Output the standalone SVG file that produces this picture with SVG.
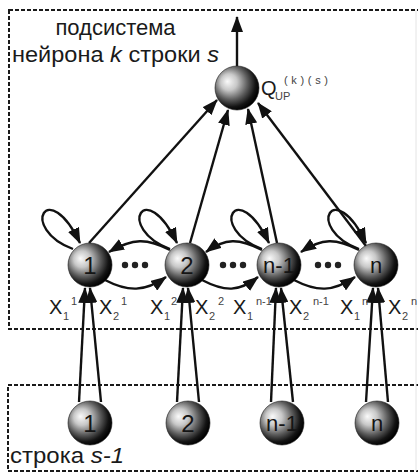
<svg xmlns="http://www.w3.org/2000/svg" width="418" height="473" viewBox="0 0 418 473">
<style>
.box{fill:none;stroke:#1a1a1a;stroke-width:2;stroke-dasharray:4 2}
.edge{fill:none;stroke:#111;stroke-width:2.4}
.arr{marker-end:url(#ah)}
.sph{fill:url(#sg);stroke:#1a1a1a;stroke-width:0.6}
.num{font-family:"Liberation Sans",Arial,sans-serif;font-size:24px;fill:#151515;text-anchor:middle}
.numn{font-family:"Liberation Sans",Arial,sans-serif;font-size:22px;fill:#151515;text-anchor:middle}
.lbl{font-family:"Liberation Sans",Arial,sans-serif;font-size:22px;fill:#1a1a1a}
.x{font-family:"Liberation Sans",Arial,sans-serif;font-size:20px;fill:#1a1a1a}
.s{font-family:"Liberation Sans",Arial,sans-serif;font-size:11px;fill:#444}
.dot{fill:#222}
</style>
<defs>
<radialGradient id="sg" cx="0.4" cy="0.4" r="0.62" fx="0.28" fy="0.35">
<stop offset="0" stop-color="#fafafa"/>
<stop offset="0.3" stop-color="#c8c8c8"/>
<stop offset="0.62" stop-color="#5c5c5c"/>
<stop offset="0.86" stop-color="#141414"/>
<stop offset="1" stop-color="#000"/>
</radialGradient>
<marker id="ah" markerUnits="userSpaceOnUse" markerWidth="16" markerHeight="12" refX="15" refY="6" orient="auto">
<path d="M0,0 L16,6 L0,12 z" fill="#111"/>
</marker>
</defs>
<rect width="418" height="473" fill="#fff"/>
<g id="frames">
<rect class="box" x="9" y="10" width="430" height="319"/>
<rect class="box" x="8" y="385" width="430" height="86"/>
<line x1="416" y1="10" x2="416" y2="471" stroke="#e4e4e4" stroke-width="1"/>
</g>
<g id="labels">
<text class="lbl" x="115.5" y="35" text-anchor="middle">подсистема</text>
<text class="lbl" x="12" y="62" textLength="207" lengthAdjust="spacingAndGlyphs">нейрона <tspan font-style="italic">k</tspan> строки <tspan font-style="italic">s</tspan></text>
<text class="lbl" x="10" y="463" textLength="114" lengthAdjust="spacingAndGlyphs">строка <tspan font-style="italic">s-1</tspan></text>
</g>
<g id="connectors">
<path class="edge arr" d="M237,66 L237,17"/>
<path class="edge arr" d="M89,243 L217,100"/>
<path class="edge arr" d="M190,243 L228,110"/>
<path class="edge arr" d="M277,243 L248,109"/>
<path class="edge arr" d="M366,246 L258,103"/>
<path class="edge arr" d="M73,249 C18,228 48,176 80,243"/>
<path class="edge arr" d="M170,249 C115,228 145,176 177,243"/>
<path class="edge arr" d="M262,249 C207,228 237,176 269,243"/>
<path class="edge arr" d="M359,249 C304,228 334,176 366,243"/>
<path class="edge arr" d="M170,250 C147,238 133,238 109,252"/>
<path class="edge arr" d="M105,280 C128,292 145,292 166,277"/>
<path class="edge arr" d="M262,250 C239,238 225,238 206,252"/>
<path class="edge arr" d="M202,280 C225,292 239,292 258,277"/>
<path class="edge arr" d="M359,250 C336,238 322,238 301,252"/>
<path class="edge arr" d="M294,280 C317,292 333,292 355,277"/>
<path class="edge arr" d="M79,402 L85,288"/>
<path class="edge arr" d="M101,402 L90,288"/>
<path class="edge arr" d="M177,402 L183,288"/>
<path class="edge arr" d="M199,402 L188,288"/>
<path class="edge arr" d="M271,402 L276,288"/>
<path class="edge arr" d="M293,402 L281,288"/>
<path class="edge arr" d="M366,402 L373,288"/>
<path class="edge arr" d="M388,402 L378,288"/>
</g>
<g id="dots">
<circle class="dot" cx="125" cy="265" r="3.2"/><circle class="dot" cx="135" cy="265" r="3.2"/><circle class="dot" cx="145" cy="265" r="3.2"/>
<circle class="dot" cx="223" cy="265" r="3.2"/><circle class="dot" cx="233" cy="265" r="3.2"/><circle class="dot" cx="243" cy="265" r="3.2"/>
<circle class="dot" cx="318" cy="265" r="3.2"/><circle class="dot" cx="328" cy="265" r="3.2"/><circle class="dot" cx="338" cy="265" r="3.2"/>
</g>
<g id="Q">
<circle class="sph" cx="237" cy="88" r="22"/>
<text class="x" x="261" y="95" font-size="19">Q</text>
<text class="s" x="275" y="100">UP</text>
<text class="s" x="284" y="84" font-size="12" textLength="44" lengthAdjust="spacing">(k)(s)</text>
</g>
<g id="m1"><circle class="sph" cx="90" cy="265" r="22"/><text class="num" x="90" y="274">1</text></g>
<g id="m2"><circle class="sph" cx="187" cy="265" r="22"/><text class="num" x="187" y="274">2</text></g>
<g id="mn1"><circle class="sph" cx="279" cy="265" r="22"/><text class="numn" x="279" y="273">n-1</text></g>
<g id="mn"><circle class="sph" cx="376" cy="265" r="22"/><text class="numn" x="376" y="273">n</text></g>
<g id="b1"><circle class="sph" cx="90" cy="423" r="22"/><text class="num" x="90" y="432">1</text></g>
<g id="b2"><circle class="sph" cx="188" cy="423" r="22"/><text class="num" x="188" y="432">2</text></g>
<g id="bn1"><circle class="sph" cx="282" cy="423" r="22"/><text class="numn" x="282" y="431">n-1</text></g>
<g id="bn"><circle class="sph" cx="377" cy="423" r="22"/><text class="numn" x="377" y="431">n</text></g>
<g id="xlabels">
<text class="x" x="49" y="314">X</text><text class="s" x="63" y="320">1</text><text class="s" x="71" y="305">1</text>
<text class="x" x="99" y="314">X</text><text class="s" x="113" y="320">2</text><text class="s" x="121" y="305">1</text>
<text class="x" x="150" y="314">X</text><text class="s" x="164" y="320">1</text><text class="s" x="171" y="305">2</text>
<text class="x" x="195" y="314">X</text><text class="s" x="209" y="320">2</text><text class="s" x="218" y="305">2</text>
<text class="x" x="233" y="314">X</text><text class="s" x="247" y="320">1</text><text class="s" x="256" y="305">n-1</text>
<text class="x" x="289" y="314">X</text><text class="s" x="303" y="320">2</text><text class="s" x="313" y="305">n-1</text>
<text class="x" x="340" y="314">X</text><text class="s" x="354" y="320">1</text><text class="s" x="362" y="305">n</text>
<text class="x" x="388" y="314">X</text><text class="s" x="402" y="320">2</text><text class="s" x="411" y="305">n</text>
</g>
</svg>
